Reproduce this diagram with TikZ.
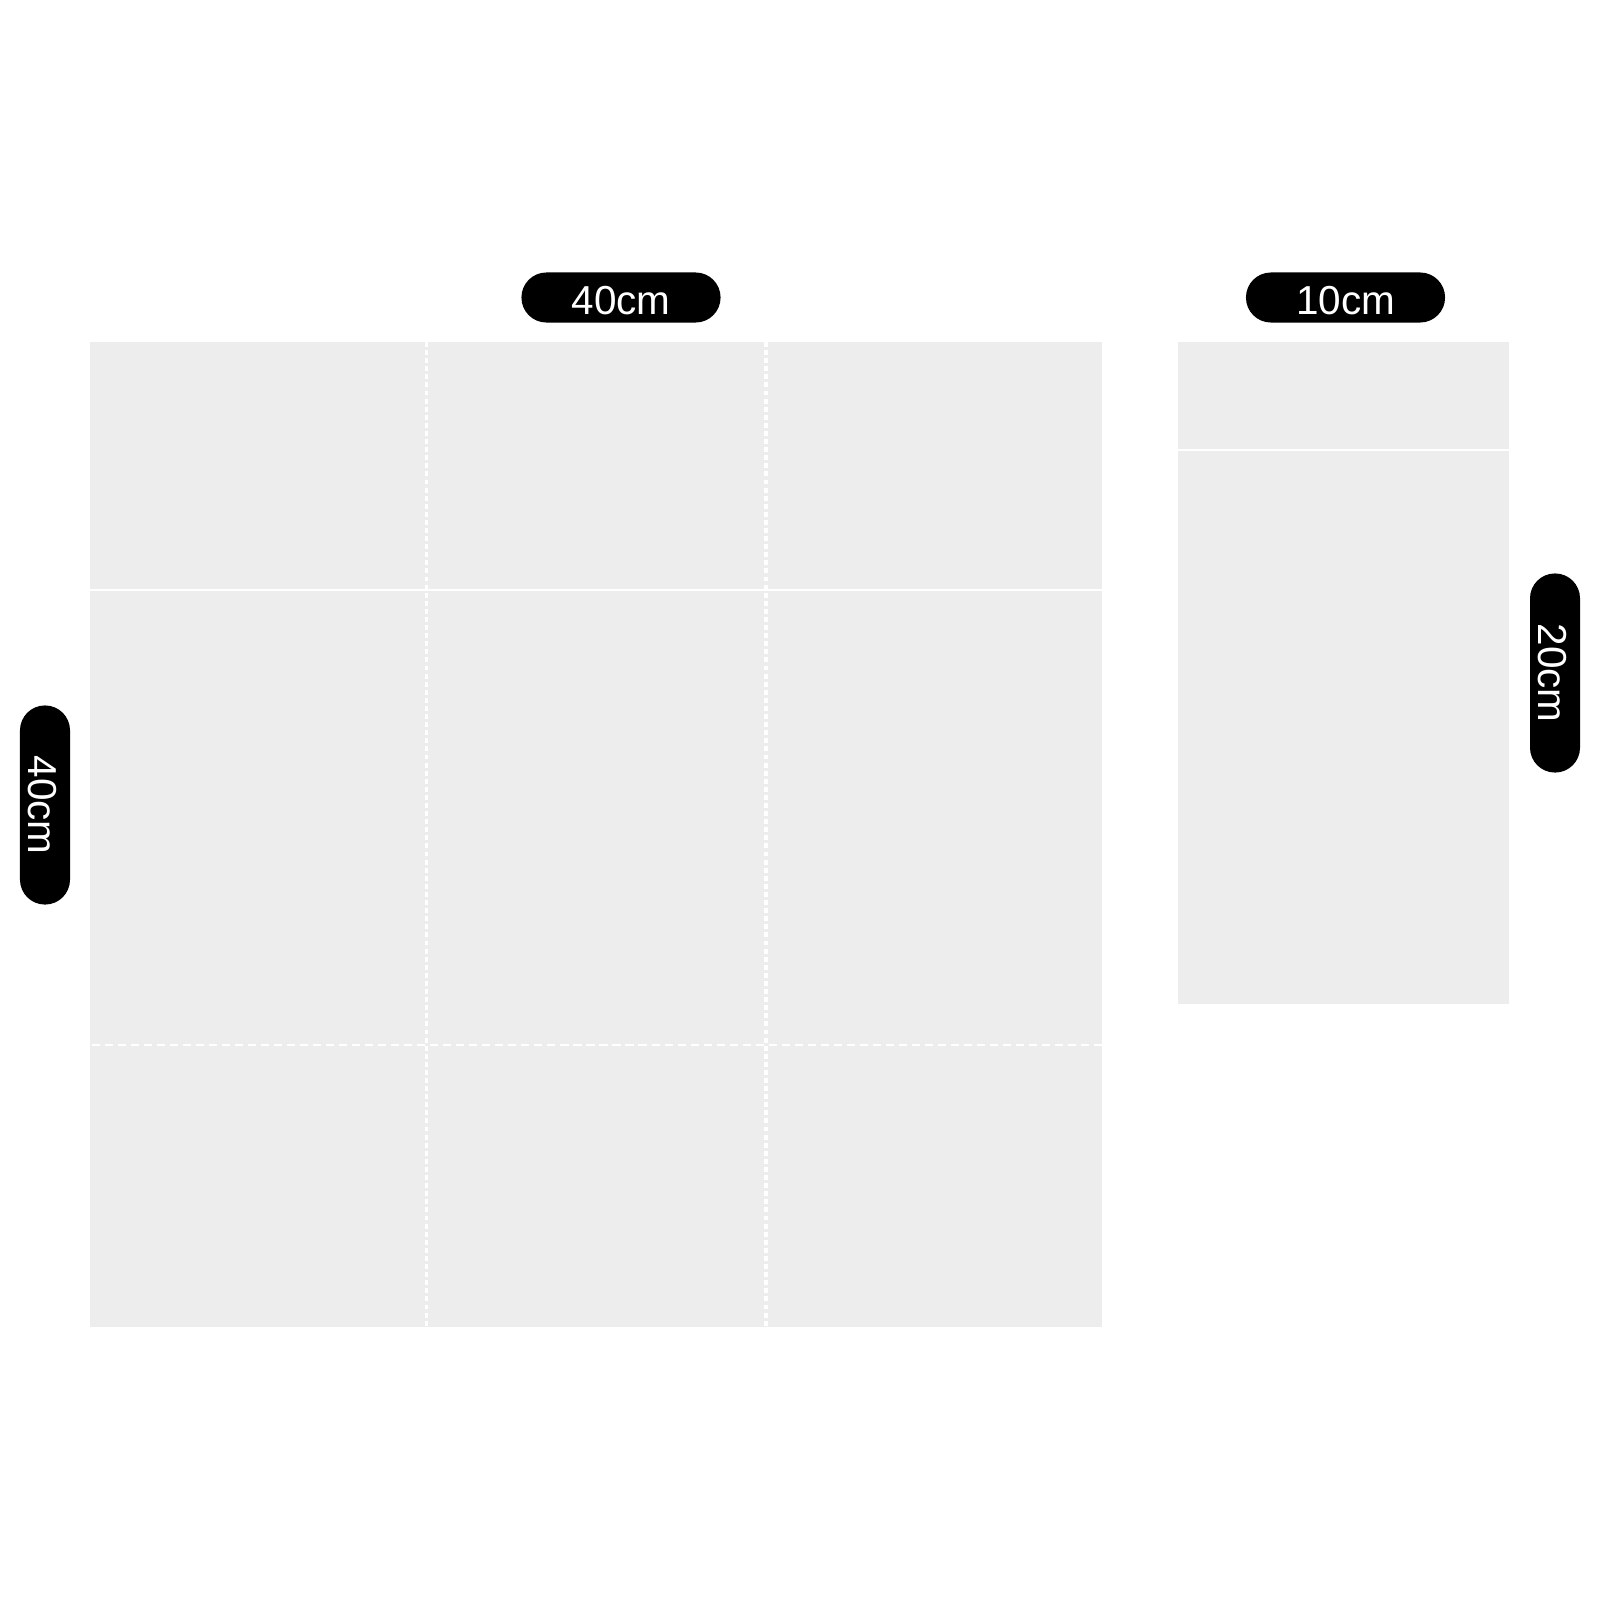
\documentclass[tikz,border=0pt]{standalone}
\usepackage{fontspec}
\setmainfont{Liberation Sans}
\definecolor{panel}{HTML}{EDEDED}
\begin{document}
\begin{tikzpicture}[x=0.01cm,y=-0.01cm,
  pill/.style={fill=black, text=white, rounded corners=0.249cm, minimum width=1.99cm, minimum height=0.5cm, inner sep=0pt, text height=0.33cm, text depth=0cm, font=\fontsize{11.5pt}{13pt}\selectfont},
  panelbox/.style={fill=panel, draw=none},
  solidsep/.style={white, line width=0.6pt},
  vdash/.style={white, line width=1pt, dash pattern=on 1.4pt off 0.9pt},
  hdash/.style={white, line width=0.7pt, dash pattern=on 2.3pt off 1.4pt}]
\useasboundingbox (0,0) rectangle (1600,1600);
\fill[white] (0,0) rectangle (1600,1600);
% main panel
\path[panelbox] (90,342) rectangle (1102,1327);
\coordinate (v1t) at (426.5,342); \coordinate (v1b) at (426.5,1327);
\coordinate (v2t) at (766,342); \coordinate (v2b) at (766,1327);
\coordinate (h1l) at (90,590); \coordinate (h1r) at (1102,590);
\coordinate (h2l) at (92,1045); \coordinate (h2r) at (1102,1045);
\draw[solidsep] (h1l) -- (h1r);
\draw[hdash] (h2l) -- (h2r);
\draw[vdash] (v1t) -- (v1b);
\draw[vdash] (v2t) -- (v2b);
% right panel
\path[panelbox] (1178,342) rectangle (1509,1004);
\coordinate (r1l) at (1178,450); \coordinate (r1r) at (1509,450);
\draw[solidsep] (r1l) -- (r1r);
% labels
\node[pill] (wmain) at (621,297.5) {40cm};
\node[pill] (wside) at (1345.5,297.5) {10cm};
\node[pill, rotate=-90] (hmain) at (45,805) {40cm};
\node[pill, rotate=-90] (hside) at (1555,673) {20cm};
\end{tikzpicture}
\end{document}
